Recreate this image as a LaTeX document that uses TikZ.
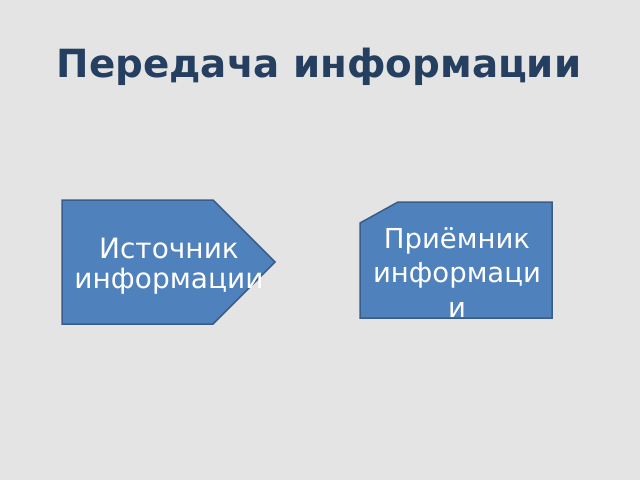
\documentclass[tikz,border=0pt]{standalone}
\usepackage{fontspec}
\setmainfont{DejaVu Sans}
\definecolor{bgc}{HTML}{E4E4E4}
\definecolor{titlec}{HTML}{243F60}
\definecolor{shapefill}{HTML}{4F81BD}
\definecolor{shapedraw}{HTML}{385D8A}
\tikzset{
  blockshape/.style={fill=shapefill, draw=shapedraw, line width=1.5pt, line join=miter},
  blocktext/.style={text=white, align=center, inner sep=0pt},
  titletext/.style={text=titlec, font=\fontsize{38.8}{44}\selectfont\bfseries, inner sep=0pt}
}
\begin{document}
\begin{tikzpicture}[x=1pt,y=-1pt]
\fill[bgc] (0,0) rectangle (640,480);
\useasboundingbox (0,0) rectangle (640,480);
\node[titletext, anchor=base] (title) at (319,77) {Передача информации};
\draw[blockshape] (62,200) -- (213,200) -- (275,262) -- (213,324) -- (62,324) -- cycle;
\node[blocktext, font=\fontsize{28}{30}\selectfont, anchor=base] (src) at (169,288) {Источник\\информации};
\draw[blockshape] (398,202) -- (552,202) -- (552,318) -- (360,318) -- (360,223) -- cycle;
\begin{scope}
\clip (360,202) rectangle (552,318);
\node[blocktext, font=\fontsize{27.5}{34.5}\selectfont, anchor=base] (dst) at (457,317) {Приёмник\\информаци\\и};
\end{scope}
\end{tikzpicture}
\end{document}
